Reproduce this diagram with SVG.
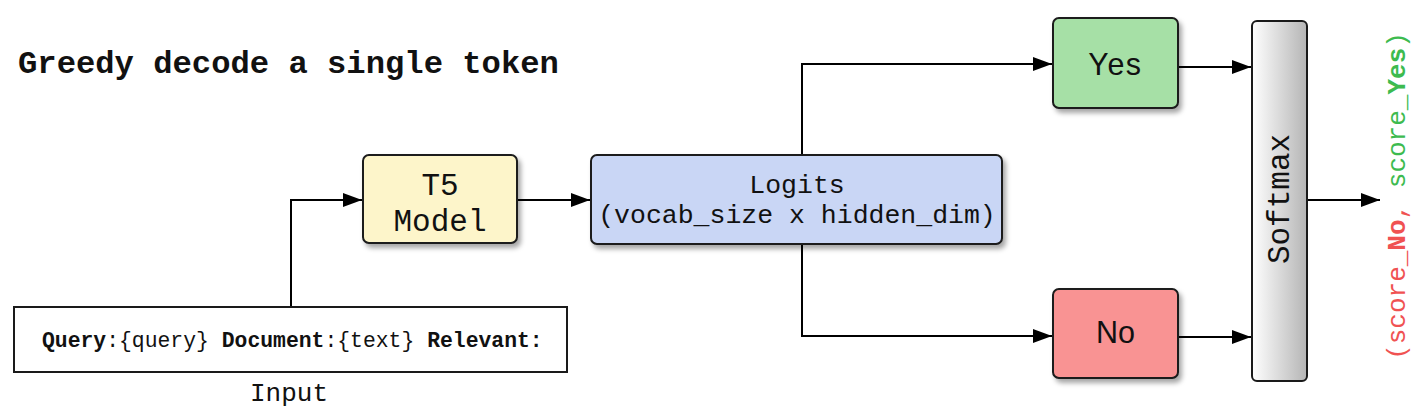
<svg xmlns="http://www.w3.org/2000/svg" width="1423" height="416" viewBox="0 0 1423 416">
<style>
.box{stroke:#1a1a1a;stroke-width:2}
.mono{font-family:"Liberation Mono","DejaVu Sans Mono",monospace;fill:#111}
.sans{font-family:"Liberation Sans",Arial,sans-serif;fill:#111}
.conn{fill:none;stroke:#000;stroke-width:2}
</style>
<defs>
<filter id="sh" x="-20%" y="-20%" width="140%" height="140%">
<feDropShadow dx="3" dy="4" stdDeviation="2.5" flood-color="#000" flood-opacity="0.35"/>
</filter>
<linearGradient id="gsm" x1="0" y1="0" x2="1" y2="0">
<stop offset="0" stop-color="#ffffff"/>
<stop offset="1" stop-color="#b5b5b5"/>
</linearGradient>
<marker id="arr" markerUnits="userSpaceOnUse" markerWidth="20" markerHeight="16" refX="19" refY="7" orient="auto">
<path d="M0,0 L19,7 L0,14 Z" fill="#000"/>
</marker>
</defs>
<rect width="1423" height="416" fill="#fff"/>
<text x="18" y="73" class="mono" font-size="32.2" font-weight="bold">Greedy decode a single token</text>

<g id="connectors">
<path class="conn" d="M291 307 V200 H362" marker-end="url(#arr)"/>
<path class="conn" d="M517 200 H590" marker-end="url(#arr)"/>
<path class="conn" d="M802 155 V64 H1052" marker-end="url(#arr)"/>
<path class="conn" d="M802 244 V336 H1052" marker-end="url(#arr)"/>
<path class="conn" d="M1178 67 H1251" marker-end="url(#arr)"/>
<path class="conn" d="M1178 337 H1251" marker-end="url(#arr)"/>
<path class="conn" d="M1307 200 H1380" marker-end="url(#arr)"/>
</g>

<g id="input">
<rect x="14" y="307" width="553" height="65" fill="#fff" class="box"/>
<text x="42" y="347" class="mono" font-size="21.4"><tspan font-weight="bold">Query</tspan>:{query} <tspan font-weight="bold">Document</tspan>:{text} <tspan font-weight="bold">Relevant:</tspan></text>
<text x="289" y="401" class="mono" font-size="26" text-anchor="middle">Input</text>
</g>

<g id="t5">
<rect x="363" y="155" width="154" height="88" rx="6" fill="#fdf5ca" class="box" filter="url(#sh)"/>
<text x="440" y="195" class="mono" font-size="31" text-anchor="middle">T5</text>
<text x="440" y="231" class="mono" font-size="31" text-anchor="middle">Model</text>
</g>

<g id="logits">
<rect x="591" y="155" width="411" height="89" rx="6" fill="#c9d6f5" class="box" filter="url(#sh)"/>
<text x="797" y="193" class="mono" font-size="26.5" text-anchor="middle">Logits</text>
<text x="797" y="223" class="mono" font-size="26.5" text-anchor="middle">(vocab_size x hidden_dim)</text>
</g>

<g id="yes">
<rect x="1053" y="18" width="125" height="90" rx="6" fill="#a6e0a6" class="box" filter="url(#sh)"/>
<text x="1115.5" y="75" class="sans" font-size="30.5" letter-spacing="1.5" text-anchor="middle">Yes</text>
</g>

<g id="no">
<rect x="1053" y="289" width="125" height="89" rx="6" fill="#f99393" class="box" filter="url(#sh)"/>
<text x="1115.5" y="343" class="sans" font-size="30.5" text-anchor="middle">No</text>
</g>

<g id="softmax">
<rect x="1252" y="21" width="55" height="360" rx="5" fill="url(#gsm)" class="box"/>
<text transform="translate(1289 199) rotate(-90)" class="mono" font-size="31" text-anchor="middle">Softmax</text>
</g>

<g id="scores">
<text transform="translate(1405 196) rotate(-90)" class="mono" font-size="26" text-anchor="middle"><tspan fill="#f05252">(score_</tspan><tspan fill="#f05252" font-weight="bold">No</tspan><tspan fill="#f05252">, </tspan><tspan fill="#3dbb4f">score_</tspan><tspan fill="#3dbb4f" font-weight="bold">Yes</tspan><tspan fill="#3dbb4f">)</tspan></text>
</g>
</svg>
